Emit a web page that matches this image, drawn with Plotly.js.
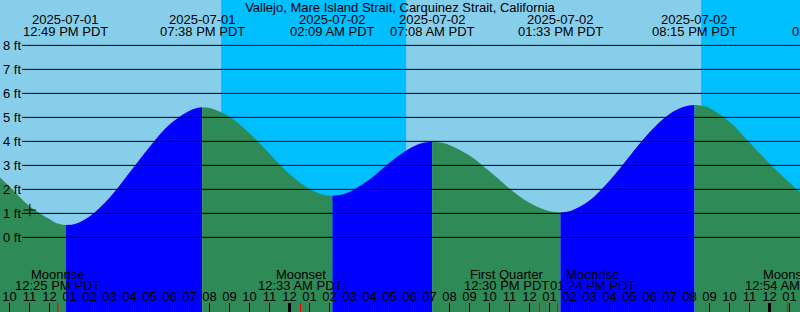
<!DOCTYPE html>
<html><head><meta charset="utf-8">
<script src="https://cdn.plot.ly/plotly-3.0.1.min.js"></script>
<style>html,body{margin:0;padding:0;background:#fff}#chart{width:800px;height:312px}</style>
</head><body><div id="chart"></div>
<script>
// ---- data ----
const stationName = "Vallejo, Mare Island Strait, Carquinez Strait, California";
const xRange = ["2025-07-01 09:31:30", "2025-07-03 01:31:30"];

const tideTimes = [
  "2025-07-01 09:00","2025-07-01 10:00","2025-07-01 11:00","2025-07-01 12:00","2025-07-01 12:19","2025-07-01 12:49",
  "2025-07-01 13:19","2025-07-01 14:00","2025-07-01 15:00","2025-07-01 16:00","2025-07-01 17:00","2025-07-01 18:00",
  "2025-07-01 19:00","2025-07-01 19:23","2025-07-01 19:38","2025-07-01 20:00","2025-07-01 21:00","2025-07-01 22:00",
  "2025-07-01 23:00","2025-07-02 00:00","2025-07-02 01:00","2025-07-02 01:39","2025-07-02 02:09","2025-07-02 02:39",
  "2025-07-02 03:00","2025-07-02 04:00","2025-07-02 05:00","2025-07-02 06:00","2025-07-02 06:38","2025-07-02 07:08",
  "2025-07-02 07:38","2025-07-02 08:00","2025-07-02 09:00","2025-07-02 10:00","2025-07-02 11:00","2025-07-02 12:00",
  "2025-07-02 13:00","2025-07-02 13:33","2025-07-02 14:00","2025-07-02 15:00","2025-07-02 16:00","2025-07-02 17:00",
  "2025-07-02 18:00","2025-07-02 19:00","2025-07-02 19:45","2025-07-02 20:15","2025-07-02 20:45","2025-07-02 21:00",
  "2025-07-02 22:00","2025-07-02 23:00","2025-07-03 00:00","2025-07-03 01:00","2025-07-03 02:00","2025-07-03 03:15"
];
const tideFeet = [
  2.90, 2.12, 1.30, 0.76, 0.60, 0.51,
  0.57, 0.87, 1.65, 2.70, 3.77, 4.70,
  5.28, 5.39, 5.42, 5.39, 5.03, 4.34,
  3.48, 2.64, 2.01, 1.78, 1.73, 1.79,
  1.89, 2.41, 3.11, 3.70, 3.93, 3.98,
  3.94, 3.85, 3.41, 2.75, 2.04, 1.44,
  1.09, 1.04, 1.09, 1.54, 2.36, 3.38,
  4.38, 5.14, 5.45, 5.51, 5.46, 5.39,
  4.82, 3.95, 3.08, 2.28, 1.60, 1.10
];

const extremeTimes = ["2025-07-01 12:49","2025-07-01 19:38","2025-07-02 02:09","2025-07-02 07:08","2025-07-02 13:33","2025-07-02 20:15","2025-07-03 03:15"];
const extremeDates = ["2025-07-01","2025-07-01","2025-07-02","2025-07-02","2025-07-02","2025-07-02","2025-07-03"];
const extremeClock = ["12:49 PM PDT","07:38 PM PDT","02:09 AM PDT","07:08 AM PDT","01:33 PM PDT","08:15 PM PDT","03:15 AM PDT"];

const sunsetTimes = ["2025-07-01 20:35","2025-07-02 20:35"];
const sunriseTimes = ["2025-07-02 05:50","2025-07-03 05:51"];

const moonTimes = ["2025-07-01 12:25","2025-07-02 00:33","2025-07-02 12:30","2025-07-02 13:24","2025-07-03 00:54"];
const moonNames = ["Moonrise","Moonset","First Quarter","Moonrise","Moonset"];
const moonClock = ["12:25 PM PDT","12:33 AM PDT","12:30 PM PDT","01:24 PM PDT","12:54 AM PDT"];

const midnightTimes = ["2025-07-02 00:00","2025-07-03 00:00"];

const nowTime = ["2025-07-01 11:01"];
const nowFeet = [1.14];

const yTickValues = [0,1,2,3,4,5,6,7,8];
const yTickLabels = ["0 ft","1 ft","2 ft","3 ft","4 ft","5 ft","6 ft","7 ft","8 ft"];

// ---- styles ----
const DAY = "#87CEEB", NIGHT = "#00BFFF", FALL = "#2E8B57", RISE = "#0000FF";
const FONT = "Liberation Sans, Arial, sans-serif";
const H = 312, W = 800;
const moonShift = [0,0,-33,35,0];

function toMs(s){ const p = s.length === 16 ? s + ":00" : s; return Date.parse(p.replace(" ","T") + "Z"); }

// ---- build segment traces (falling = green, rising = blue) ----
const traces = [];
const cut = [0];
tideTimes.forEach((t,i) => { if (extremeTimes.includes(t) && i !== 0 && i !== tideTimes.length-1) cut.push(i); });
cut.push(tideTimes.length-1);
for (let k = 0; k < cut.length-1; k++) {
  const a = cut[k], b = cut[k+1];
  const xs = tideTimes.slice(a, b+1), ys = tideFeet.slice(a, b+1);
  const rising = ys[ys.length-1] > ys[0];
  traces.push({x:[xs[0], xs[xs.length-1]], y:[-6,-6], mode:"lines", line:{width:0}, hoverinfo:"skip", showlegend:false});
  traces.push({x:xs, y:ys, mode:"lines", line:{width:0, shape:"spline", smoothing:1}, fill:"tonexty",
    fillcolor: rising ? RISE : FALL, hoverinfo:"skip", showlegend:false});
}
traces.push({x:nowTime, y:nowFeet, mode:"markers", marker:{symbol:"cross-thin", size:9, line:{width:1, color:"#000"}}, hoverinfo:"skip", showlegend:false});

// ---- shapes ----
const shapes = [];
sunsetTimes.forEach((s,i) => shapes.push({type:"rect", xref:"x", yref:"paper", x0:s, x1:sunriseTimes[i], y0:0, y1:1, fillcolor:NIGHT, line:{width:0}, layer:"below"}));
yTickValues.forEach(v => shapes.push({type:"line", xref:"paper", yref:"y", x0:22/W, x1:1, y0:v, y1:v, line:{color:"#000", width:1}, layer:"above"}));
midnightTimes.forEach(t => shapes.push({type:"line", xref:"x", yref:"paper", x0:t, x1:t, y0:0, y1:9/H, line:{color:"#000", width:3}, layer:"above"}));
moonTimes.forEach(t => shapes.push({type:"line", xref:"x", yref:"paper", x0:t, x1:t, y0:0, y1:9/H, line:{color:"#FF0000", width:1.2}, layer:"above"}));

// ---- annotations ----
const r0 = toMs(xRange[0]), r1 = toMs(xRange[1]);
const ann = [];
function addText(t, text, py, xs){
  const f = (toMs(t) - r0) / (r1 - r0);
  const inRange = f >= 0 && f <= 1;
  ann.push({xref: inRange ? "x" : "paper", x: inRange ? t : f, yref:"paper", y: 1 - py/H,
    text:text, showarrow:false, xanchor:"center", yanchor:"middle", xshift: xs || 0,
    font:{family:FONT, size:13, color:"#000"}, borderpad:0});
}
extremeTimes.forEach((t,i) => { addText(t, extremeDates[i], 19.5); addText(t, extremeClock[i], 31.2); });
moonTimes.forEach((t,i) => { addText(t, moonNames[i], 274, moonShift[i]); addText(t, moonClock[i], 285.5, moonShift[i]); });

const layout = {
  width:W, height:H, margin:{l:0,r:0,t:0,b:0,pad:0},
  paper_bgcolor:DAY, plot_bgcolor:DAY,
  font:{family:FONT, size:13, color:"#000"},
  title:{text:stationName, x:0.5, xanchor:"center", xref:"paper", y:1-7.5/H, yanchor:"middle", font:{family:FONT, size:13, color:"#000"}},
  showlegend:false,
  xaxis:{type:"date", range:xRange, showgrid:false, zeroline:false, showline:false,
    ticks:"inside", ticklen:9, tickwidth:1, tickcolor:"#000", dtick:3600000, tick0:"2025-07-01 00:00",
    tickformat:"%I", ticklabelposition:"inside", ticklabeloverflow:"allow", ticklabelstandoff:-1,
    tickfont:{family:FONT, size:13, color:"#000"}, fixedrange:true},
  yaxis:{range:[-3.11, 9.89], showgrid:false, zeroline:false, showline:false, ticks:"",
    tickmode:"array", tickvals:yTickValues, ticktext:yTickLabels, ticklabelposition:"inside", ticklabeloverflow:"allow",
    tickfont:{family:FONT, size:13, color:"#000"}, fixedrange:true},
  shapes:shapes, annotations:ann
};
Plotly.newPlot("chart", traces, layout, {staticPlot:true, displayModeBar:false});
</script></body></html>
